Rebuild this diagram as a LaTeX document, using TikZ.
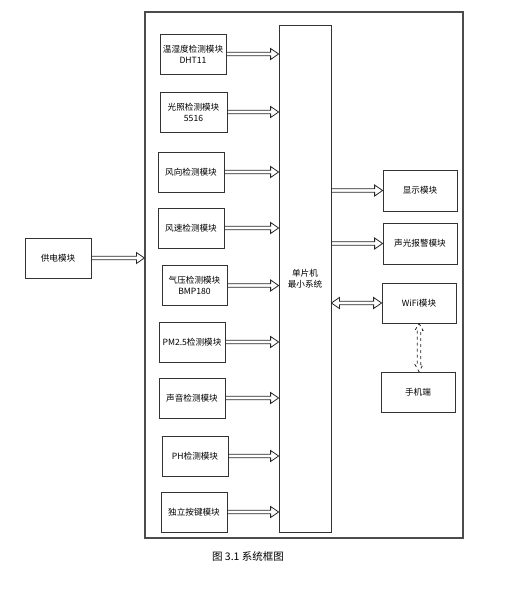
\documentclass[tikz,border=0pt]{standalone}
\usepackage{fontspec}
\setmainfont{Noto Sans CJK SC}
\usetikzlibrary{calc}

% hollow arrow from #1 to #2 (horizontal, left to right)
\newcommand{\hollowarrow}[3][]{%
  \draw[arrowline, #1] let \p1=(#2), \p2=(#3) in
    (\x1,\y1+1.8pt) -- (\x2-8pt,\y1+1.8pt) -- (\x2-8pt,\y1+5.5pt) -- (\x2,\y1)
    -- (\x2-8pt,\y1-5.5pt) -- (\x2-8pt,\y1-1.8pt) -- (\x1,\y1-1.8pt);}
% hollow arrow with two heads, horizontal
\newcommand{\hollowboth}[3][]{%
  \draw[arrowline, #1] let \p1=(#2), \p2=(#3) in
    (\x1,\y1) -- (\x1+8pt,\y1+5.5pt) -- (\x1+8pt,\y1+1.8pt) -- (\x2-8pt,\y1+1.8pt)
    -- (\x2-8pt,\y1+5.5pt) -- (\x2,\y1) -- (\x2-8pt,\y1-5.5pt) -- (\x2-8pt,\y1-1.8pt)
    -- (\x1+8pt,\y1-1.8pt) -- (\x1+8pt,\y1-5.5pt) -- cycle;}
% hollow arrow with two heads, vertical (#2 on top)
\newcommand{\hollowvert}[3][]{%
  \draw[arrowline, #1] let \p1=(#2), \p2=(#3) in
    (\x1,\y1) -- (\x1+4pt,\y1-7pt) -- (\x1+1.8pt,\y1-7pt) -- (\x1+1.8pt,\y2+7pt)
    -- (\x1+4pt,\y2+7pt) -- (\x1,\y2) -- (\x1-4pt,\y2+7pt) -- (\x1-1.8pt,\y2+7pt)
    -- (\x1-1.8pt,\y1-7pt) -- (\x1-4pt,\y1-7pt) -- cycle;}

\begin{document}
\begin{tikzpicture}[x=1pt, y=-1pt,
    module/.style={draw=black!80, line width=0.8pt, minimum width=66pt, minimum height=40pt,
        inner sep=1pt, align=center, font=\fontsize{8.6}{11}\selectfont},
    arrowline/.style={draw=black!85, line width=0.8pt, line join=miter}]

    \useasboundingbox (0,0) rectangle (514,589);

    % Frame and MCU
    \node[draw=black!70, line width=1.2pt, minimum width=318pt, minimum height=526pt, inner sep=0pt] (frame) at (304,275) {};
    \node[module, minimum width=52pt, minimum height=507pt] (mcu) at (305,278.5) {单片机\\最小系统};

    % Sensor modules
    \node[module] (th)    at (193,54)    {温湿度检测模块\\DHT11};
    \node[module, minimum width=67pt] (light) at (193.5,112) {光照检测模块\\5516};
    \node[module] (wdir)  at (191,172)   {风向检测模块};
    \node[module] (wspd)  at (191,228)   {风速检测模块};
    \node[module, minimum width=65pt] (press) at (194.5,285.5) {气压检测模块\\BMP180};
    \node[module] (pm)    at (192,342)   {PM2.5检测模块};
    \node[module] (sound) at (192,398)   {声音检测模块};
    \node[module] (ph)    at (195,456)   {PH检测模块};
    \node[module] (key)   at (194,512)   {独立按键模块};

    % Power
    \node[module] (power) at (58,258) {供电模块};

    % Outputs
    \node[module, minimum width=74pt, minimum height=41pt] (disp)  at (420,190.5) {显示模块};
    \node[module, minimum width=74pt, minimum height=41pt] (alarm) at (420,243.5) {声光报警模块};
    \node[module, minimum width=74pt] (wifi)  at (419,303) {WiFi模块};
    \node[module, minimum width=74pt] (phone) at (418,392) {手机端};

    % Arrows into MCU
    \foreach \m in {th, light, wdir, wspd, press, pm, sound, ph, key}
        {\hollowarrow{\m.east}{\m.east -| mcu.west}}
    \hollowarrow{power.east}{power.east -| frame.west}

    % Arrows out of MCU
    \hollowarrow{mcu.east |- disp.west}{disp.west}
    \hollowarrow{mcu.east |- alarm.west}{alarm.west}
    \hollowboth{mcu.east |- wifi.west}{wifi.west}
    \hollowvert[dashed]{wifi.south}{phone.north}

    % Caption
    \node[font=\fontsize{10.5}{12}\selectfont] (cap) at (248,556) {图 3.1 系统框图};

\end{tikzpicture}
\end{document}
